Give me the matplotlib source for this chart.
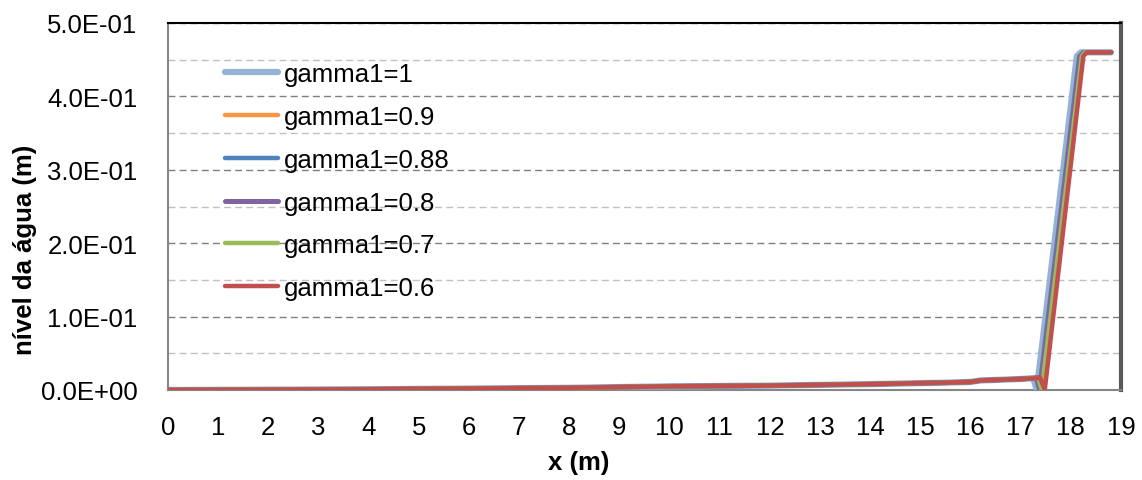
import matplotlib
matplotlib.use("Agg")
import matplotlib.pyplot as plt
from matplotlib.ticker import MultipleLocator, FuncFormatter

plt.rcParams['font.family'] = ['Liberation Sans', 'DejaVu Sans']

# gradual profile shared by all runs before the jump
base_x = [0, 2, 4, 6, 8, 10, 12, 14, 15.5, 16.0, 16.2, 17.0]
base_y = [0.000, 0.0005, 0.001, 0.002, 0.003, 0.005, 0.006, 0.008, 0.010, 0.011, 0.013, 0.015]

labels = ["gamma1=1", "gamma1=0.9", "gamma1=0.88", "gamma1=0.8", "gamma1=0.7", "gamma1=0.6"]
colors = ["#95B3D7", "#F79646", "#4F81BD", "#8064A2", "#9BBB59", "#C0504D"]
widths = [4.5, 3.2, 3.2, 3.6, 3.2, 3.2]

# jump region per run
tail_x = [
    [17.2, 17.25, 17.32, 18.12, 18.2, 18.8],
    [17.25, 17.3, 17.37, 18.17, 18.25, 18.8],
    [17.25, 17.3, 17.37, 18.17, 18.25, 18.8],
    [17.27, 17.32, 17.39, 18.19, 18.26, 18.8],
    [17.3, 17.35, 17.42, 18.22, 18.28, 18.8],
    [17.33, 17.38, 17.48, 18.25, 18.32, 18.8],
]
tail_y = [
    [0.016, 0.016, 0.0, 0.455, 0.46, 0.46],
    [0.016, 0.017, 0.0, 0.455, 0.46, 0.46],
    [0.016, 0.017, 0.0, 0.455, 0.46, 0.46],
    [0.016, 0.017, 0.0, 0.455, 0.46, 0.46],
    [0.016, 0.017, 0.0, 0.455, 0.46, 0.46],
    [0.016, 0.018, 0.0, 0.455, 0.46, 0.46],
]

FS = 18.5

fig = plt.figure(figsize=(11.42, 4.81), dpi=100)
ax = fig.add_axes([168/1142, 1 - 391/481, (1121-168)/1142, (391-24)/481])

for lab, c, w, tx, ty in zip(labels, colors, widths, tail_x, tail_y):
    ax.plot(base_x + tx, base_y + ty, color=c, lw=w, label=lab,
            solid_joinstyle='round', solid_capstyle='round', zorder=3)

ax.set_xlim(0, 19)
ax.set_ylim(0, 0.5)
ax.xaxis.set_major_locator(MultipleLocator(1))
ax.yaxis.set_major_locator(MultipleLocator(0.1))
ax.yaxis.set_minor_locator(MultipleLocator(0.05))
ax.yaxis.set_major_formatter(FuncFormatter(lambda v, p: f"{v:.1E}"))

ax.grid(axis='y', which='major', color='#7f7f7f', linestyle=(0, (5, 3)), lw=1.0, zorder=1)
ax.grid(axis='y', which='minor', color='#c0c0c0', linestyle=(0, (5, 3)), lw=1.0, zorder=1)
ax.tick_params(axis='both', which='both', length=0, labelsize=FS)
ax.tick_params(axis='y', pad=22)
ax.tick_params(axis='x', pad=18)

ax.spines['left'].set_color('#868686')
ax.spines['left'].set_linewidth(1.5)
ax.spines['bottom'].set_color('#868686')
ax.spines['bottom'].set_linewidth(1.5)
ax.spines['right'].set_color('#595959')
ax.spines['right'].set_linewidth(3)
ax.spines['top'].set_color('black')
ax.spines['top'].set_linewidth(1.5)

ax.set_xlabel("x (m)", fontsize=FS, fontweight='bold')
ax.xaxis.set_label_coords(0.431, -0.163)
ax.set_ylabel("nível da água (m)", fontsize=FS, fontweight='bold')
ax.yaxis.set_label_coords(-0.137, 0.384)

leg = ax.legend(loc='upper left', bbox_to_anchor=(0.06, 0.893), frameon=False,
                fontsize=FS, handlelength=2.06, handletextpad=0.23, labelspacing=0.73,
                borderaxespad=0, borderpad=0)

fig.savefig("out.png", dpi=100)
